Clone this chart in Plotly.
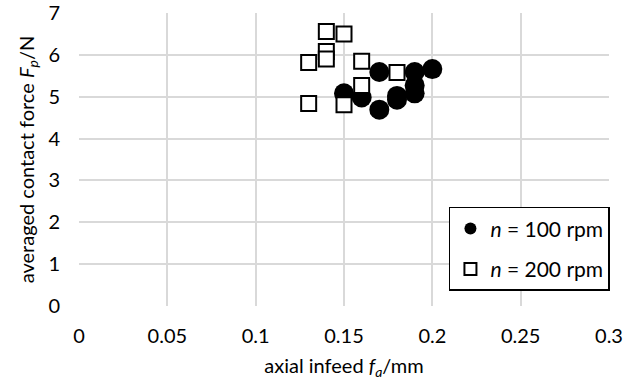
import plotly.graph_objects as go

# n = 100 rpm (filled circles)
fa_100 = [0.15, 0.16, 0.17, 0.17, 0.18, 0.18, 0.19, 0.19, 0.19, 0.20]
fp_100 = [5.08, 4.98, 5.59, 4.69, 4.93, 5.02, 5.08, 5.27, 5.59, 5.66]

# n = 200 rpm (open squares)
fa_200 = [0.13, 0.13, 0.14, 0.14, 0.14, 0.15, 0.15, 0.16, 0.16, 0.18]
fp_200 = [5.82, 4.84, 6.56, 6.08, 5.90, 6.50, 4.81, 5.85, 5.27, 5.58]

x_ticks = [0, 0.05, 0.1, 0.15, 0.2, 0.25, 0.3]
x_tick_labels = ["0", "0.05", "0.1", "0.15", "0.2", "0.25", "0.3"]
y_ticks = [0, 1, 2, 3, 4, 5, 6, 7]

FONT = "Lato, 'Open Sans', sans-serif"

fig = go.Figure()
fig.add_trace(go.Scatter(
    x=fa_100, y=fp_100, mode="markers",
    name="<i>n</i> = 100 rpm", legendgroup="a",
    marker=dict(symbol="circle", size=20, color="black",
                line=dict(color="black", width=0)),
))
fig.add_trace(go.Scatter(
    x=fa_200, y=fp_200, mode="markers",
    name="<i>n</i> = 200 rpm", legendgroup="b",
    marker=dict(symbol="square", size=15, color="white",
                line=dict(color="black", width=2)),
))

fig.update_layout(
    width=635, height=389,
    margin=dict(l=79, r=26, t=13, b=83, autoexpand=False),
    paper_bgcolor="white", plot_bgcolor="white",
    font=dict(family=FONT, size=20, color="black"),
    showlegend=True,
    legend=dict(
        x=0.698, y=0.338, xanchor="left", yanchor="top",
        bgcolor="white", bordercolor="black", borderwidth=1.5,
        font=dict(family=FONT, size=21, color="black"),
        tracegroupgap=10, itemsizing="constant",
    ),
    xaxis=dict(
        range=[0, 0.3], tickvals=x_ticks, ticktext=x_tick_labels,
        showgrid=True, gridcolor="#d9d9d9", gridwidth=1.5,
        zeroline=False, showline=False, ticks="", automargin=False,
        ticklabelstandoff=16, ticklabeloverflow="allow",
        title=dict(text="axial infeed <i>f</i><sub><i>a</i></sub>/mm",
                   font=dict(size=20), standoff=12),
        tickfont=dict(size=20),
    ),
    yaxis=dict(
        range=[0, 7], tickvals=y_ticks,
        showgrid=True, gridcolor="#d9d9d9", gridwidth=1.5,
        zeroline=False, showline=False, ticks="", automargin=False,
        ticklabelstandoff=18, ticklabeloverflow="allow",
        title=dict(text="averaged contact force <i>F</i><sub><i>p</i></sub>/N",
                   font=dict(size=20), standoff=8),
        tickfont=dict(size=20),
    ),
)

fig.write_html("out.html", config={"displayModeBar": False},
               post_script="document.body.style.margin='0';")
